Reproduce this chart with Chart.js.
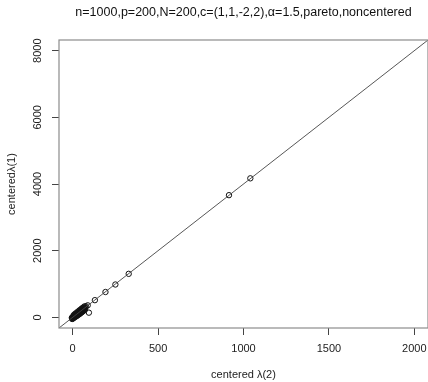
<!DOCTYPE html>
<html lang="en">
<head>
<meta charset="UTF-8">
<title>centered lambda scatter</title>
<script src="https://cdn.jsdelivr.net/npm/chart.js"></script>
<style>
  html, body { margin: 0; padding: 0; background: #fff; }
  #wrap { width: 428px; height: 382px; }
</style>
</head>
<body>
<div id="wrap"><canvas id="chart" width="428" height="382"></canvas></div>
<script>
  // data
  const lambda2 = [1040, 915, 328, 250, 192, 130, 95, 88,
    78, 74, 70, 67, 64, 61, 58, 55, 53, 50, 48, 46, 44, 42, 40, 38, 36, 34, 32, 30,
    28, 26, 24, 22, 20, 18, 17, 15, 14, 12, 11, 10, 9, 8, 7, 6, 5, 4, 3, 2, 1, 0, -2, -5,
    25, 35, 45, 55, 65, 20, 30, 40, 15, 10, 50, 60,
    72, 68, 62, 57, 52, 47, 43, 37, 33, 27, 23, 19, 13, 8, 4, 0, -3,
    70, 63, 56, 49, 41, 33, 26, 18, 11, 5];
  const lambda1 = [4170, 3665, 1305, 985, 760, 515, 140, 360,
    330, 290, 285, 262, 250, 245, 228, 215, 205, 198, 185, 180, 170, 165, 150, 148, 140, 130, 125, 118,
    110, 100, 95, 85, 80, 70, 62, 58, 52, 46, 40, 38, 30, 28, 22, 20, 14, 12, 8, 5, 2, 0, -5, -15,
    70, 110, 150, 180, 220, 50, 90, 130, 40, 20, 160, 200,
    230, 210, 190, 170, 150, 130, 110, 90, 75, 55, 40, 25, 10, -10, -25, -40, -50,
    330, 300, 275, 245, 215, 180, 150, 120, 90, 60];
  const xTicks = [0, 500, 1000, 1500, 2000];
  const yTicks = [0, 2000, 4000, 6000, 8000];
  const xRange = [-80, 2080];
  const yRange = [-320, 8320];
  const slope = [4]; // reference line y = 4x

  const points = lambda2.map((x, i) => ({ x: x, y: lambda1[i] }));
  const refLine = xRange.map(x => ({ x: x, y: slope[0] * x }));

  const FONT = "'Liberation Sans', Arial, sans-serif";

  // R style box around the plot region
  const boxPlugin = {
    id: 'box',
    afterDatasetsDraw(chart) {
      const a = chart.chartArea;
      const ctx = chart.ctx;
      ctx.save();
      ctx.strokeStyle = '#8c8c8c';
      ctx.lineWidth = 1.2;
      ctx.strokeRect(a.left, a.top, a.right - a.left, a.bottom - a.top);
      ctx.restore();
    }
  };

  new Chart(document.getElementById('chart'), {
    type: 'scatter',
    data: {
      datasets: [
        {
          type: 'line',
          data: refLine,
          borderColor: '#444',
          borderWidth: 0.9,
          pointRadius: 0,
          fill: false,
          tension: 0
        },
        {
          data: points,
          pointStyle: 'circle',
          pointRadius: 2.7,
          pointBorderWidth: 1,
          pointBorderColor: '#111',
          pointBackgroundColor: 'rgba(0,0,0,0)'
        }
      ]
    },
    options: {
      responsive: false,
      animation: false,
      devicePixelRatio: 1,
      layout: { padding: 0, autoPadding: false },
      plugins: {
        legend: { display: false },
        tooltip: { enabled: false },
        title: {
          display: true,
          fullSize: false,
          text: 'n=1000,p=200,N=200,c=(1,1,-2,2),\u03b1=1.5,pareto,noncentered',
          color: '#111',
          font: { family: FONT, size: 12.5, weight: 'normal', lineHeight: 1.2 },
          padding: { top: 5.5, bottom: 19.5 }
        }
      },
      scales: {
        x: {
          type: 'linear',
          min: xRange[0],
          max: xRange[1],
          afterBuildTicks: s => { s.ticks = xTicks.map(v => ({ value: v })); },
          afterFit: s => { s.height = 54; s.paddingLeft = 0; s.paddingRight = 0; },
          border: { display: false },
          grid: { drawOnChartArea: false, drawTicks: true, tickLength: 7, color: '#444', lineWidth: 1 },
          ticks: {
            color: '#222',
            font: { family: FONT, size: 11 },
            padding: 7,
            maxRotation: 0,
            minRotation: 0,
            callback: v => String(v)
          },
          title: {
            display: true,
            text: 'centered \u03bb(2)',
            color: '#222',
            font: { family: FONT, size: 11 },
            padding: { top: 0, bottom: 0 }
          }
        },
        y: {
          type: 'linear',
          min: yRange[0],
          max: yRange[1],
          afterBuildTicks: s => { s.ticks = yTicks.map(v => ({ value: v })); },
          afterFit: s => { s.width = 59; s.paddingTop = 0; s.paddingBottom = 0; },
          border: { display: false },
          grid: { drawOnChartArea: false, drawTicks: true, tickLength: 7, color: '#444', lineWidth: 1 },
          ticks: {
            color: '#222',
            font: { family: FONT, size: 11 },
            padding: 2,
            minRotation: 90,
            maxRotation: 90,
            crossAlign: 'center',
            callback: v => String(v)
          },
          title: {
            display: true,
            text: 'centered\u03bb(1)',
            color: '#222',
            font: { family: FONT, size: 11 },
            padding: { top: 5, bottom: 0 }
          }
        }
      }
    },
    plugins: [boxPlugin]
  });
</script>
</body>
</html>
